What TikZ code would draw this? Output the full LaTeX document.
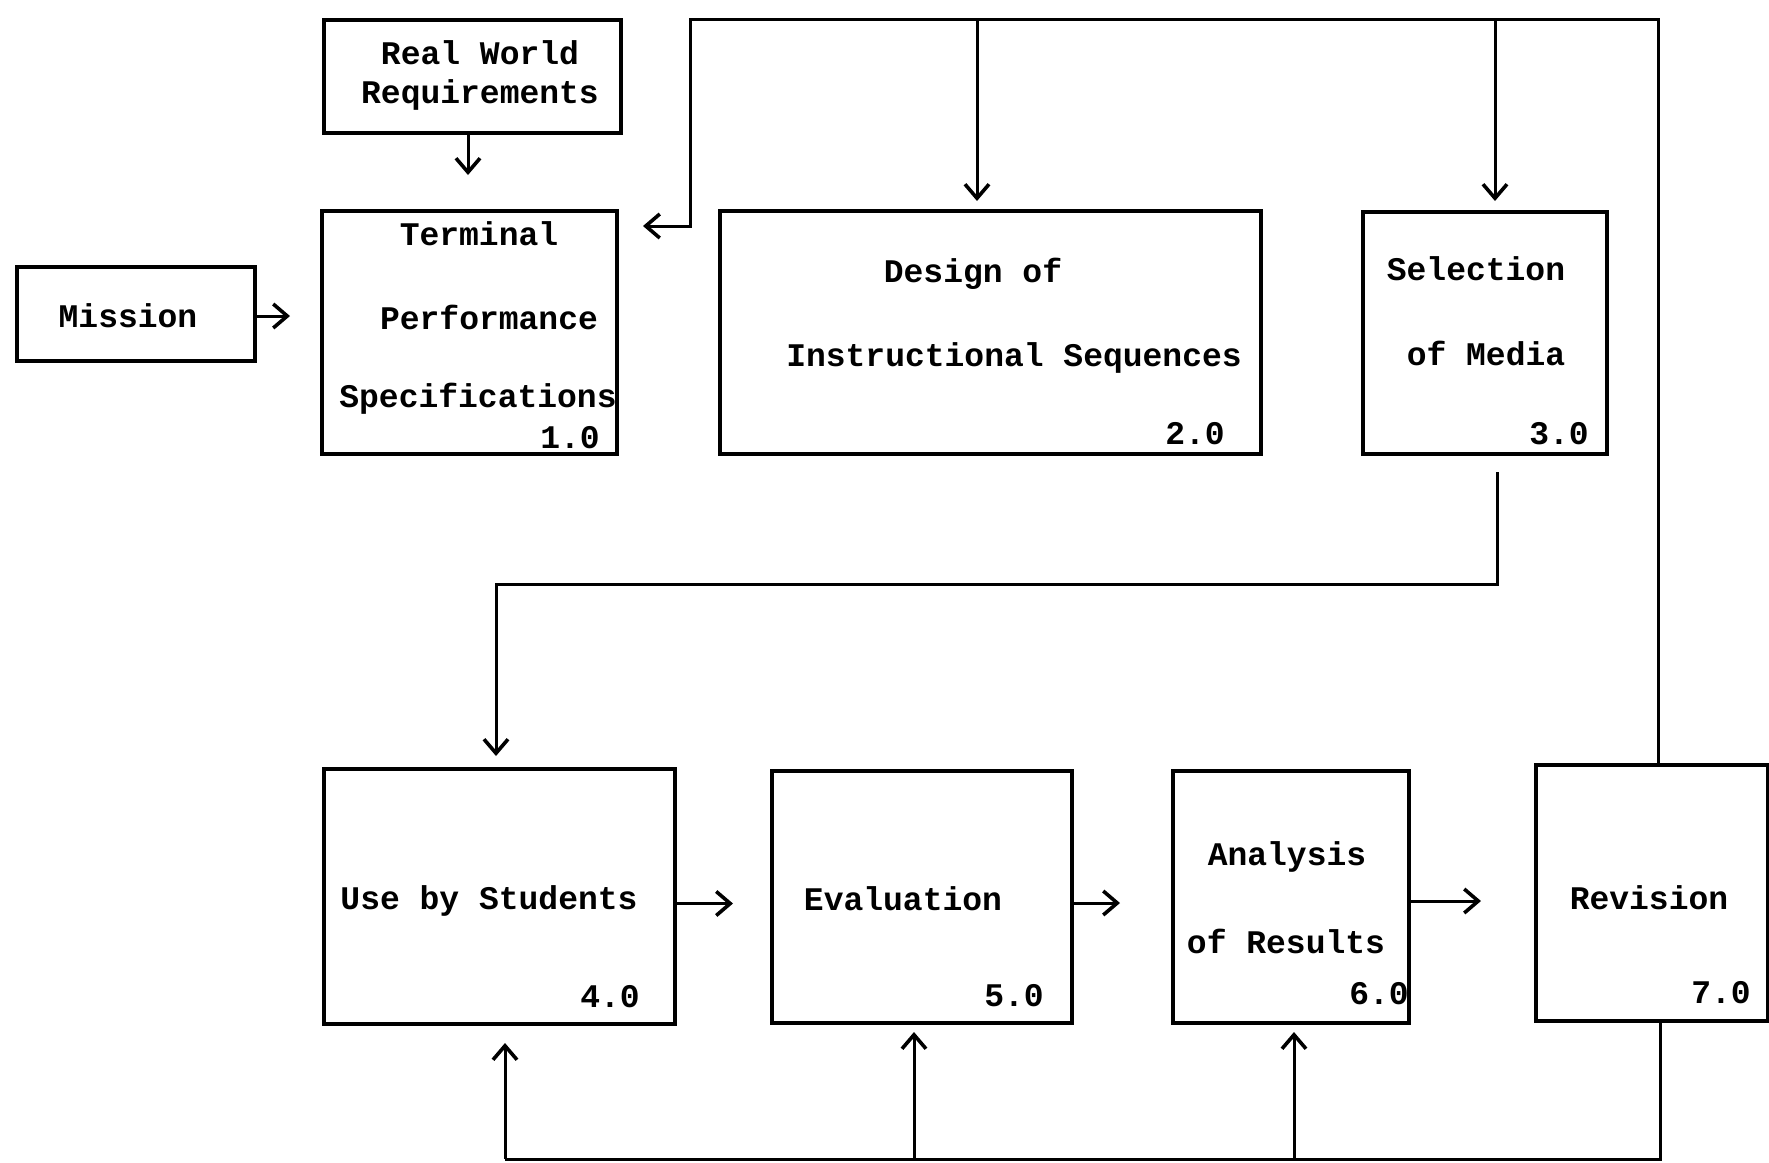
\documentclass[tikz,border=0pt]{standalone}
\usepackage{fontspec}
\setmonofont{Liberation Mono}
\usetikzlibrary{arrows.meta,calc}
\begin{document}
\begin{tikzpicture}[x=0.5pt,y=-0.5pt,
  box/.style={draw,line width=2pt,inner sep=0pt,outer sep=0pt},
  txt/.style={font=\ttfamily\bfseries\fontsize{16.5}{20}\selectfont,inner sep=0pt},
  conn/.style={line width=1.5pt},
  arr/.style={line width=1.5pt,-{Straight Barb[length=7pt,width=12pt,line width=1.8pt]}}]
\useasboundingbox (0,0) rectangle (1769,1163);
% boxes
\node[box,minimum width=148.5pt,minimum height=56.5pt] (rw) at (472.5,76.5) {};
\node[box,minimum width=147.5pt,minimum height=121.5pt] (tps) at (469.5,332.5) {};
\node[box,minimum width=119pt,minimum height=47pt] (mission) at (136,314) {};
\node[box,minimum width=270.5pt,minimum height=121.5pt] (design) at (990.5,332.5) {};
\node[box,minimum width=122pt,minimum height=121pt] (sel) at (1485,333) {};
\node[box,minimum width=175.5pt,minimum height=127.5pt] (use) at (499.5,896.5) {};
\node[box,minimum width=150pt,minimum height=126pt] (eval) at (922,897) {};
\node[box,minimum width=118pt,minimum height=126pt] (ana) at (1291,897) {};
\node[box,minimum width=116pt,minimum height=128pt] (rev) at (1652,893) {};
% texts
\node[txt] (rw1) at (480,53) {Real World};
\node[txt] (rw2) at (480,95) {Requirements};
\node[txt] (tps1) at (479,234) {Terminal};
\node[txt] (tps2) at (489,317) {Performance};
\node[txt] (tps3) at (478,399) {Specifications};
\node[txt] (tpsn) at (570,438) {1.0};
\node[txt] (mis1) at (128,316) {Mission};
\node[txt] (des1) at (973,274) {Design of};
\node[txt] (des2) at (1014,358) {Instructional Sequences};
\node[txt] (desn) at (1195,434) {2.0};
\node[txt] (sel1) at (1476,269) {Selection};
\node[txt] (sel2) at (1486,353) {of Media};
\node[txt] (seln) at (1559,434) {3.0};
\node[txt] (use1) at (489,901) {Use by Students};
\node[txt] (usen) at (610,997) {4.0};
\node[txt] (eval1) at (903,899) {Evaluation};
\node[txt] (evaln) at (1014,996) {5.0};
\node[txt] (ana1) at (1287,857) {Analysis};
\node[txt] (ana2) at (1286,941) {of Results};
\node[txt] (anan) at (1379,994) {6.0};
\node[txt] (rev1) at (1649,898) {Revision};
\node[txt] (revn) at (1721,993) {7.0};
% coordinates
\coordinate (tr) at (1658,19);
\coordinate (tl) at (690,19);
\coordinate (tlb) at (690,226);
\coordinate (dtop) at (977,19);
\coordinate (stop) at (1495,19);
\coordinate (s1) at (1497,584);
\coordinate (s2) at (496,584);
\coordinate (b1) at (1660,1159);
\coordinate (b2) at (505,1159);
\coordinate (b3) at (914,1159);
\coordinate (b4) at (1294,1159);
% connectors
\draw[arr,shorten >=18pt] (rw.south -| 468,0) -- (468,0 |- tps.north);
\draw[arr,shorten >=16pt] ($(mission.east)+(0,2)$) -- ($(mission.east -| tps.west)+(0,2)$);
\draw[arr,shorten >=13pt] (rev.north -| tr) -- (tr) -- (tl) -- (tlb) -- (tlb -| tps.east);
\draw[arr,shorten >=5pt] (dtop) -- (dtop |- design.north);
\draw[arr,shorten >=5.5pt] (stop) -- (stop |- sel.north);
\draw[arr,shorten <=9pt,shorten >=6.5pt] (sel.south -| s1) -- (s1) -- (s2) -- (s2 |- use.north);
\draw[arr,shorten >=19.5pt] ($(use.east)+(0,7)$) -- ($(use.east -| eval.west)+(0,7)$);
\draw[arr,shorten >=26.5pt] ($(eval.east)+(0,6)$) -- ($(eval.east -| ana.west)+(0,6)$);
\draw[arr,shorten >=27.5pt] ($(ana.east)+(0,4)$) -- ($(ana.east -| rev.west)+(0,4)$);
\draw[conn] (rev.south -| b1) -- (b1) -- (b2);
\draw[arr,shorten >=9.5pt] (b2) -- (b2 |- use.south);
\draw[arr,shorten >=4.5pt] (b3) -- (b3 |- eval.south);
\draw[arr,shorten >=4.5pt] (b4) -- (b4 |- ana.south);
\end{tikzpicture}
\end{document}
